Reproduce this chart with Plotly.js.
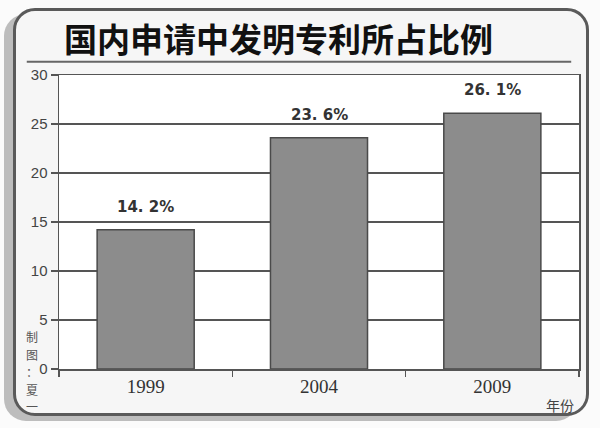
<!DOCTYPE html>
<html>
<head>
<meta charset="utf-8">
<script src="https://cdn.plot.ly/plotly-3.0.1.min.js"></script>
<style>
html,body{margin:0;padding:0;background:#ffffff;}
#wrap{position:relative;width:600px;height:428px;overflow:hidden;background:#fbfbfb;}
#shadow{position:absolute;left:4px;top:14px;width:574px;height:407px;border-radius:22px;background:#bdbdbd;}
#frame{position:absolute;left:13px;top:8px;width:570px;height:402px;border:3px solid #5a5a5a;border-radius:22px;background:#f6f6f6;}
#chart{position:absolute;left:0;top:0;width:600px;height:428px;}
</style>
</head>
<body>
<div id="wrap">
<div id="shadow"></div>
<div id="frame"></div>
<div id="chart"></div>
</div>
<script>
var titleText = '国内申请中发明专利所占比例';
var years = ['1999', '2004', '2009'];
var values = [14.2, 23.6, 26.1];
var valueLabels = ['14. 2%', '23. 6%', '26. 1%'];
var yTicks = [0, 5, 10, 15, 20, 25, 30];
var xUnit = '年份';
var credit = '制图：夏一';

var annotations = years.map(function(y, i){
  return {x: i, y: values[i], xref: 'x', yref: 'y', text: '<b>' + valueLabels[i] + '</b>', showarrow: false,
    yanchor: 'bottom', yshift: 12, font: {family: 'DejaVu Sans, sans-serif', size: 15, color: '#333'}};
});
annotations.push({xref: 'paper', yref: 'paper', x: 0.994, y: -0.08, xanchor: 'right', yanchor: 'top',
  text: xUnit, showarrow: false, font: {family: 'Noto Sans CJK SC', size: 14, color: '#444'}});
credit.split('').forEach(function(ch, i){
  annotations.push({xref: 'paper', yref: 'paper', x: -0.052, y: 0.11, xanchor: 'center', yanchor: 'middle',
    yshift: -17.5 * i, text: ch, showarrow: false,
    font: {family: 'Noto Sans CJK SC', size: 12, color: '#555'}});
});
annotations.push({xref: 'paper', yref: 'paper', x: 0.006, y: 1.126, xanchor: 'left', yanchor: 'middle',
  text: '<b>' + titleText + '</b>', showarrow: false,
  font: {family: 'Noto Sans CJK SC', size: 33, color: '#111'}});

var data = [{
  type: 'bar', x: years, y: values, width: 0.56,
  marker: {color: '#8c8c8c', line: {color: '#4a4a4a', width: 1.5}},
  hoverinfo: 'none'
}];

var layout = {
  width: 600, height: 428,
  margin: {l: 59, r: 21, t: 75, b: 59},
  paper_bgcolor: 'rgba(0,0,0,0)',
  plot_bgcolor: '#ffffff',
  showlegend: false,
  xaxis: {
    type: 'category', range: [-0.5, 2.5], showline: true, linecolor: '#555', linewidth: 1.5, mirror: true,
    ticks: 'outside', tickson: 'boundaries', ticklen: 6, tickcolor: '#555', tickwidth: 1.5,
    showgrid: false, zeroline: false, tickangle: 0,
    tickfont: {family: 'Liberation Serif, serif', size: 19, color: '#333'}
  },
  yaxis: {
    range: [0, 30], tickvals: yTicks, showline: true, linecolor: '#555', linewidth: 1.5, mirror: true,
    ticks: 'outside', ticklen: 7, tickcolor: '#555', tickwidth: 1.5,
    showgrid: true, gridcolor: '#555', gridwidth: 1.5, zeroline: false,
    tickfont: {family: 'Liberation Sans, sans-serif', size: 15, color: '#444'}
  },
  shapes: [{type: 'line', xref: 'paper', yref: 'paper', x0: -0.062, x1: 0.985, y0: 1.045, y1: 1.045,
    line: {color: '#666', width: 2}}],
  annotations: annotations
};

Plotly.newPlot('chart', data, layout, {displayModeBar: false, staticPlot: true});
</script>
</body>
</html>
